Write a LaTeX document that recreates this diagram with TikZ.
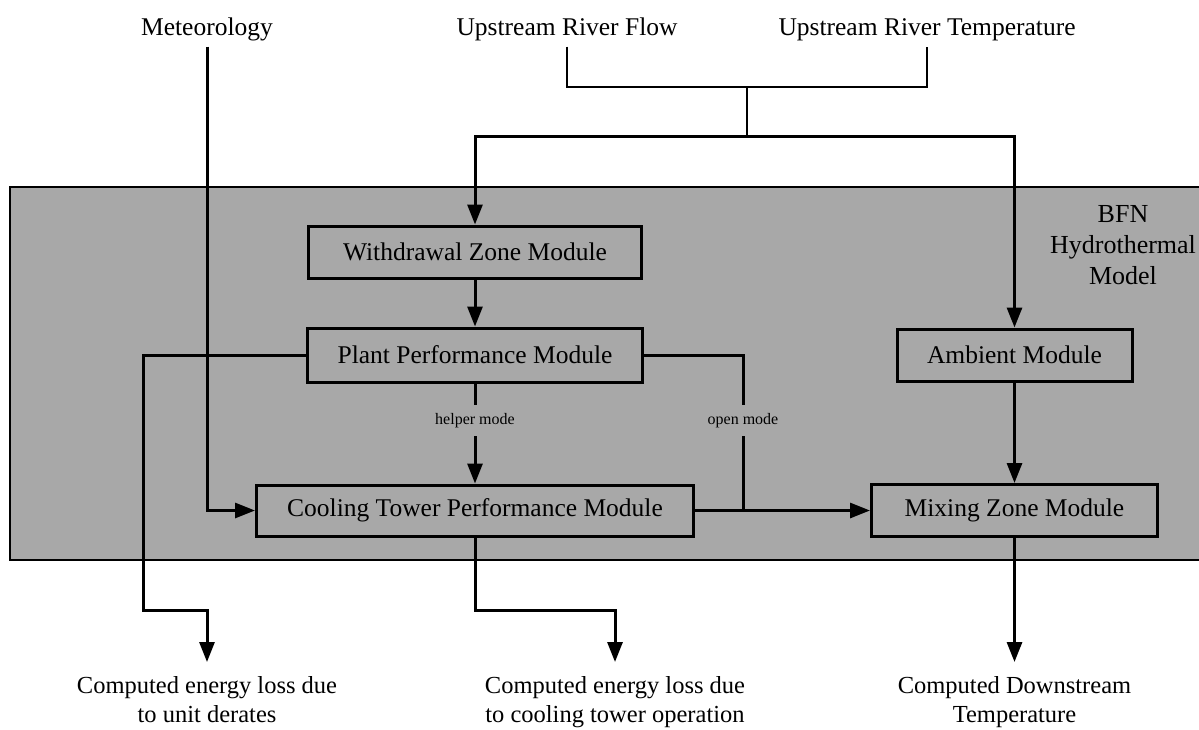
\documentclass[tikz,border=0pt]{standalone}
\usepackage{fontspec}
\setmainfont{Liberation Serif}
\usetikzlibrary{arrows.meta}
\definecolor{bggray}{RGB}{168,168,168}
\begin{document}
\begin{tikzpicture}[x=1pt,y=-1pt,
  box/.style={draw, line width=3pt, fill=bggray, inner sep=0pt, font=\fontsize{25.5}{30}\selectfont},
  conn/.style={line width=3pt},
  thinconn/.style={line width=2.5pt},
  arr/.style={conn, -{Triangle[length=20pt,width=15pt]}},
  lbl/.style={fill=bggray, inner xsep=2pt, inner ysep=8pt, font=\fontsize{16}{19}\selectfont},
  toptext/.style={font=\fontsize{25.5}{30}\selectfont, anchor=base, inner xsep=0pt, inner ysep=6pt},
  outtext/.style={font=\fontsize{24.5}{29}\selectfont, align=center, anchor=north, inner xsep=0pt, inner ysep=14pt}]
\useasboundingbox (0,0) rectangle (1199,729);
\fill[white] (0,0) rectangle (1199,729);
% model area
\fill[bggray] (10,187) rectangle (1210,560);
\draw[line width=2.5pt] (1210,187) -- (10,187) -- (10,560) -- (1210,560);
\node[font=\fontsize{26}{31}\selectfont, align=center, inner sep=0pt] (bfn) at (1123,245) {BFN\\Hydrothermal\\Model};
% inputs
\node[toptext] (met) at (207,35) {Meteorology};
\node[toptext] (flow) at (567,35) {Upstream River Flow};
\node[toptext] (temp) at (927,35) {Upstream River Temperature};
% modules
\node[box, minimum width=333pt, minimum height=52pt] (wz) at (475,252) {Withdrawal Zone Module};
\node[box, minimum width=335pt, minimum height=54pt] (pp) at (475,355) {Plant Performance Module};
\node[box, minimum width=437pt, minimum height=51pt] (ct) at (475,510.5) {Cooling Tower Performance Module};
\node[box, minimum width=235pt, minimum height=52pt] (am) at (1014.5,355) {Ambient Module};
\node[box, minimum width=286pt, minimum height=52pt] (mz) at (1014.5,510.5) {Mixing Zone Module};
% outputs
\node[outtext] (loss1) at (207,662) {Computed energy loss due\\to unit derates};
\node[outtext] (loss2) at (615,662) {Computed energy loss due\\to cooling tower operation};
\node[outtext] (down) at (1014.5,662) {Computed Downstream\\Temperature};
% junctions
\coordinate (j1) at (747,87);
\coordinate (j2) at (747,136);
\coordinate (c1) at (143,610);
\coordinate (c2) at (475,610);
\coordinate (c3) at (743,510.5);
% connectors
\draw[thinconn] (flow.south) |- (j1) -| (temp.south);
\draw[thinconn] (j1) -- (j2);
\draw[arr] (j2) -| (wz.north);
\draw[arr] (j2) -| (am.north);
\draw[arr] (met.south) |- (ct.west);
\draw[arr] (wz.south) -- (pp.north);
\draw[arr] (pp.south) -- node[lbl, pos=0.37] (hm) {helper mode} (ct.north);
\draw[conn] (pp.east) -| node[lbl, pos=0.71] (om) {open mode} (c3);
\draw[arr] (ct.east) -- (mz.west);
\draw[arr] (am.south) -- (mz.north);
\draw[arr] (pp.west) -| (c1) -| (loss1.north);
\draw[arr] (ct.south) -- (c2) -| (loss2.north);
\draw[arr] (mz.south) -- (down.north);
\end{tikzpicture}
\end{document}
